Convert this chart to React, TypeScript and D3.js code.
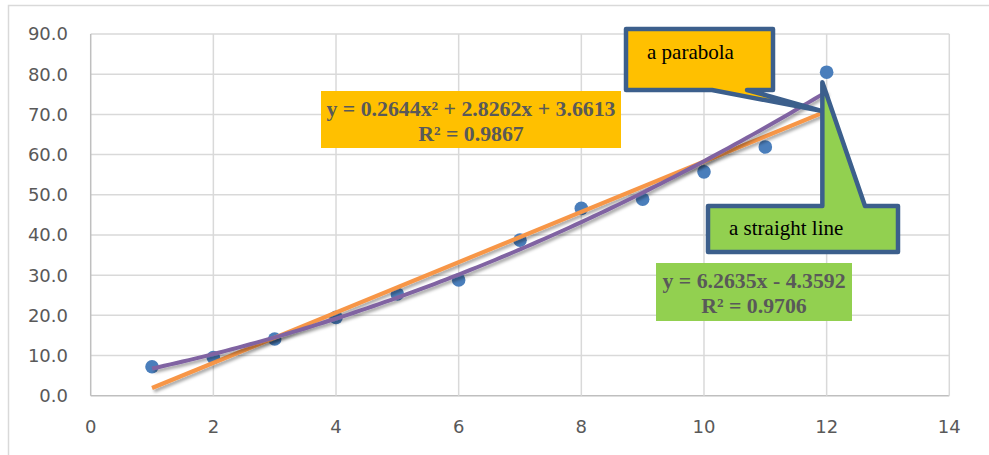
import * as d3 from 'd3'

// Datos
const xValues = [1, 2, 3, 4, 5, 6, 7, 8, 9, 10, 11, 12]
const yValues = [7.2, 9.5, 14.1, 19.5, 25.3, 28.8, 38.7, 46.6, 48.9, 55.7, 61.9, 80.5]
const xTicks = [0, 2, 4, 6, 8, 10, 12, 14]
const yTicks = [0, 10, 20, 30, 40, 50, 60, 70, 80, 90]
// Coeficientes de las líneas de tendencia (de las etiquetas)
const quadCoefs = [0.2644, 2.8262, 3.6613]
const linCoefs = [6.2635, -4.3592]
const quadLabel = ['y = 0.2644x² + 2.8262x + 3.6613', 'R² = 0.9867']
const linLabel = ['y = 6.2635x - 4.3592', 'R² = 0.9706']

const W = 989
const H = 455

export default function App() {
  const x = d3.scaleLinear().domain([0, 14]).range([90.7, 949.3])
  const y = d3.scaleLinear().domain([0, 90]).range([395.7, 34])

  const quad = (v: number) => quadCoefs[0] * v * v + quadCoefs[1] * v + quadCoefs[2]
  const lin = (v: number) => linCoefs[0] * v + linCoefs[1]

  const quadSamples = d3.range(1, 12.001, 0.1)
  const quadPath = d3.line<number>().x(d => x(d)).y(d => y(quad(d)))(quadSamples)
  const linPath = d3.line<number>().x(d => x(d)).y(d => y(lin(d)))([1, 12])

  const axisFont = '"DejaVu Sans", sans-serif'
  const serif = '"Liberation Serif", "Times New Roman", serif'
  const calloutStroke = '#3c5f8c'

  // puntas de los globos
  const tip1 = [x(11.93), y(lin(12))]
  const tip2 = [x(11.93), y(78)]

  return (
    <svg width={W} height={H} style={{ position: 'absolute', left: 0, top: 0, background: '#fff' }}>
      <defs>
        <filter id="sh" x="-10%" y="-10%" width="120%" height="130%">
          <feDropShadow dx="2" dy="2.5" stdDeviation="1.5" floodColor="#000" floodOpacity="0.35" />
        </filter>
      </defs>
      <rect x={8.5} y={5.5} width={1000} height={500} fill="#fff" stroke="#d9d9d9" strokeWidth={1.5} />

      {/* rejilla */}
      {yTicks.map(t => (
        <line key={'gy' + t} x1={x(0)} x2={x(14)} y1={y(t)} y2={y(t)}
          stroke={t === 0 ? '#bfbfbf' : '#d9d9d9'} strokeWidth={1.5} />
      ))}
      {xTicks.map(t => (
        <line key={'gx' + t} x1={x(t)} x2={x(t)} y1={y(0)} y2={y(90)}
          stroke={t === 0 ? '#bfbfbf' : '#d9d9d9'} strokeWidth={1.5} />
      ))}

      {/* etiquetas de ejes */}
      {yTicks.map(t => (
        <text key={'ly' + t} x={68} y={y(t)} dy="0.36em" textAnchor="end"
          fontFamily={axisFont} fontSize={18} fill="#595959">{t.toFixed(1)}</text>
      ))}
      {xTicks.map(t => (
        <text key={'lx' + t} x={x(t)} y={427} dy="0.36em" textAnchor="middle"
          fontFamily={axisFont} fontSize={18} fill="#595959">{t}</text>
      ))}

      {/* puntos */}
      {xValues.map((v, i) => (
        <circle key={'p' + i} cx={x(v)} cy={y(yValues[i])} r={6.8} fill="#4a7ebb" />
      ))}

      {/* tendencias */}
      <path d={linPath || ''} fill="none" stroke="#f79646" strokeWidth={4.2} filter="url(#sh)" />
      <path d={quadPath || ''} fill="none" stroke="#8064a2" strokeWidth={4} filter="url(#sh)" />

      {/* etiqueta cuadrática */}
      <rect x={321} y={91} width={300} height={57} fill="#ffc000" />
      {quadLabel.map((s, i) => (
        <text key={'q' + i} x={471} y={116 + i * 25} textAnchor="middle" fontFamily={serif}
          fontWeight="bold" fontSize={21.8} fill="#595959">{s}</text>
      ))}

      {/* etiqueta lineal */}
      <rect x={656} y={263} width={196} height={58} fill="#92d050" />
      {linLabel.map((s, i) => (
        <text key={'l' + i} x={754} y={288 + i * 25} textAnchor="middle" fontFamily={serif}
          fontWeight="bold" fontSize={21.8} fill="#595959">{s}</text>
      ))}

      {/* globo parábola */}
      <path d={`M626,29 H773 V90 H747 L${tip1[0]},${tip1[1]} L712,90 H626 Z`}
        fill="#ffc000" stroke={calloutStroke} strokeWidth={4.5} strokeLinejoin="round" />
      <text x={647} y={59} fontFamily={serif} fontSize={21} fill="#000">a parabola</text>

      {/* globo recta */}
      <path d={`M708,206 H${tip2[0]} V${tip2[1]} L865,206 H898 V252 H708 Z`}
        fill="#92d050" stroke={calloutStroke} strokeWidth={4.5} strokeLinejoin="round" />
      <text x={729} y={235} fontFamily={serif} fontSize={21} fill="#000">a straight line</text>
    </svg>
  )
}
